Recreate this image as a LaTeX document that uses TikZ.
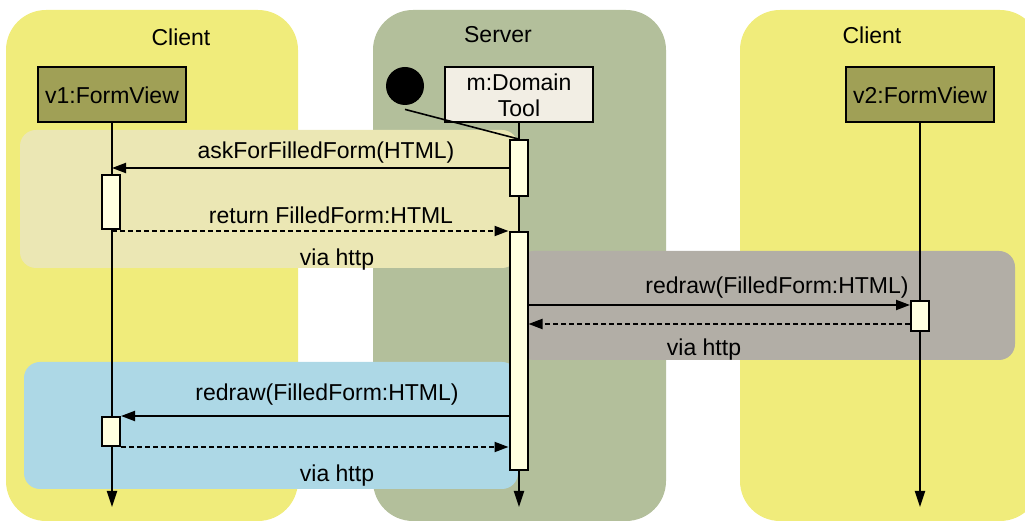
\documentclass[tikz,border=0pt]{standalone}
\usepackage{fontspec}
\setmainfont{Liberation Sans}
\usetikzlibrary{arrows.meta}
\definecolor{clientcol}{RGB}{240,236,123}
\definecolor{servercol}{RGB}{179,191,155}
\definecolor{palecol}{RGB}{235,231,180}
\definecolor{grecol}{RGB}{178,174,166}
\definecolor{bluecol}{RGB}{173,216,230}
\definecolor{olivecol}{RGB}{160,160,86}
\definecolor{beigecol}{RGB}{242,238,228}
\definecolor{actcol}{RGB}{255,255,224}
\begin{document}
\begin{tikzpicture}[x=0.5pt,y=-0.5pt,font=\fontsize{11.5}{13}\selectfont]
            \tikzstyle{objet}=[draw,line width=1pt,minimum width=74pt,minimum height=27.5pt,inner sep=1pt,align=center]
            \tikzstyle{activ}=[draw,line width=1pt,fill=actcol,minimum width=9pt,inner sep=0pt]
            \tikzset{edge/.style = {line width=1pt,-{Triangle[length=7pt,width=5pt]}}}
            \tikzset{retour/.style = {edge,dash pattern=on 2.5pt off 1.5pt}}
            \tikzset{vie/.style = {line width=1pt,-{Triangle[length=8pt,width=5pt]}}}
            \useasboundingbox (0,0) rectangle (1025,523);
            \fill[clientcol,rounded corners=20pt] (6,10) rectangle (298,521);
            \fill[servercol,rounded corners=20pt] (373,10) rectangle (666,521);
            \fill[clientcol,rounded corners=20pt] (740,10) rectangle (1040,521);
            \fill[palecol,rounded corners=8pt] (20,130) rectangle (518,268);
            \fill[grecol,rounded corners=8pt] (518,251) rectangle (1015,360);
            \fill[bluecol,rounded corners=8pt] (24,362) rectangle (518,489);
            \node (c1t) at (181,37) {Client};
            \node (st) at (498,35) {Server};
            \node (c2t) at (872,35) {Client};
            \node[objet,fill=olivecol] (v1) at (112,95) {v1:FormView};
            \node[objet,fill=beigecol] (m) at (519,95) {m:Domain\\Tool};
            \node[objet,fill=olivecol] (v2) at (920,95) {v2:FormView};
            \node[circle,fill=black,minimum size=19pt,inner sep=0pt] (o) at (405,86) {};
            \coordinate (v1e) at (112,507);
            \coordinate (me) at (519,507);
            \coordinate (v2e) at (920,507);
            \draw[vie] (v1) -- (v1e);
            \draw[vie] (m) -- (me);
            \draw[vie] (v2) -- (v2e);
            \node[activ,minimum height=28pt] (s1) at (518.5,168) {};
            \node[activ,minimum height=119pt] (s2) at (518.5,351) {};
            \node[activ,minimum height=27pt] (a1) at (111,202) {};
            \node[activ,minimum height=15pt] (a3) at (920,316) {};
            \node[activ,minimum height=14.5pt] (a4) at (111,431.5) {};
            \draw[line width=0.8pt] ([yshift=-2pt]o.south) -- (s1.north);
            \draw[edge] (s1.west) -- (s1.west -| v1);
            \draw[retour] (s2.north west -| v1) -- (s2.north west);
            \draw[edge] ([yshift=-2.5pt]a3.north west -| s2.east) -- ([yshift=-2.5pt]a3.north west);
            \draw[retour] ([yshift=4pt]a3.south west) -- ([yshift=4pt]a3.south west -| s2.east);
            \draw[edge] (a4.north east -| s2.west) -- (a4.north east);
            \draw[retour] (a4.south east) -- (a4.south east -| s2.west);
            \node (l1) at (326,153) {askForFilledForm(HTML)};
            \node (l2) at (331,215) {return FilledForm:HTML};
            \node (l3) at (337,260) {via http};
            \node (l4) at (777,288) {redraw(FilledForm:HTML)};
            \node (l5) at (704,350) {via http};
            \node (l6) at (327,395) {redraw(FilledForm:HTML)};
            \node (l7) at (337,476) {via http};
        \end{tikzpicture}
\end{document}
